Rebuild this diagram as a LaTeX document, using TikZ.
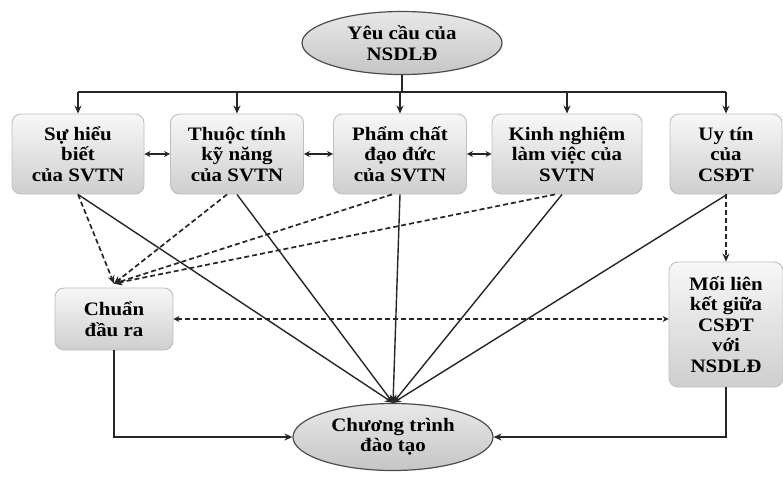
\documentclass[tikz,border=0pt]{standalone}
\usepackage{fontspec}
\setmainfont{Liberation Serif}[FakeStretch=1.1]
\usetikzlibrary{arrows.meta,shapes.geometric}
\begin{document}
\begin{tikzpicture}[x=1pt,y=-1pt,
  txt/.style={align=center, font=\bfseries\fontsize{19}{20.5}\selectfont, text=black},
  box/.style={txt, draw=gray!50, line width=0.9pt, rounded corners=9pt, top color=gray!6, bottom color=gray!38, inner sep=0pt},
  oval/.style={txt, ellipse, draw=gray!60!black, line width=1.2pt, top color=gray!18, bottom color=gray!45, inner sep=0pt},
  tip/.style={-{Stealth[length=8pt,width=7pt]}},
  dtip/.style={{Stealth[length=6pt,width=6pt]}-{Stealth[length=6pt,width=6pt]}},
  ln/.style={line width=1.4pt, draw=black!85},
  dsh/.style={ln, line width=1.7pt, dash pattern=on 5pt off 3pt},
]
\useasboundingbox[fill=white] (0,0) rectangle (783,480);

\node[oval, minimum width=200pt, minimum height=63pt] (top) at (402,43) {Yêu cầu của\\NSDLĐ};

\node[box, minimum width=132pt, minimum height=80pt] (b1) at (78,154) {Sự hiểu\\biết\\của SVTN};
\node[box, minimum width=133pt, minimum height=80pt] (b2) at (237,154) {Thuộc tính\\kỹ năng\\của SVTN};
\node[box, minimum width=133pt, minimum height=80pt] (b3) at (400,154) {Phẩm chất\\đạo đức\\của SVTN};
\node[box, minimum width=150pt, minimum height=80pt] (b4) at (567,154) {Kinh nghiệm\\làm việc của\\SVTN};
\node[box, minimum width=112pt, minimum height=80pt] (b5) at (726,154) {Uy tín\\của\\CSĐT};

\node[box, minimum width=118pt, minimum height=62pt] (ch) at (114,319) {Chuẩn\\đầu ra};
\node[box, minimum width=114pt, minimum height=125pt] (ml) at (726,324.5) {Mối liên\\kết giữa\\CSĐT\\với\\NSDLĐ};

\node[oval, minimum width=200pt, minimum height=67pt] (ct) at (393,437) {Chương trình\\đào tạo};

\coordinate (hl) at (0,92);
\coordinate (cq) at ([yshift=4pt]ch.north);

% top distribution
\draw[ln] (top.south) -- (top.south |- hl);
\draw[ln] (b1.north |- hl) -- (b5.north |- hl);
\foreach \b in {b1,b2,b3,b4,b5} \draw[ln,tip] (\b.north |- hl) -- (\b.north);

% double arrows between boxes
\draw[ln,dtip] (b1.east) -- (b2.west);
\draw[ln,dtip] (b2.east) -- (b3.west);
\draw[ln,dtip] (b3.east) -- (b4.west);

% solid lines to programme
\draw[ln,tip] (b1.south) -- (ct.north);
\draw[ln,tip] (b2.south) -- (ct.north);
\draw[ln,tip] (b3.south) -- (ct.north);
\draw[ln,tip] ([xshift=-5pt]b4.south) -- (ct.north);
\draw[ln,tip] ([xshift=1pt]b5.south) -- (ct.north);

% dashed lines to learning outcomes
\draw[dsh,tip] (b1.south) -- (cq);
\draw[dsh,tip] ([xshift=-10pt]b2.south) -- (cq);
\draw[dsh,tip] ([xshift=-8pt]b3.south) -- (cq);
\draw[dsh,tip] ([xshift=-12pt]b4.south) -- (cq);

% reputation to link
\draw[dsh,tip] (b5.south) -- (ml.north);

% outcomes <-> link
\draw[dsh,dtip] (ch.east) -- (ch.east -| ml.west);

% to programme
\draw[ln,tip] (ch.south) |- (ct.west);
\draw[ln,tip] (ml.south) |- (ct.east);
\end{tikzpicture}
\end{document}
